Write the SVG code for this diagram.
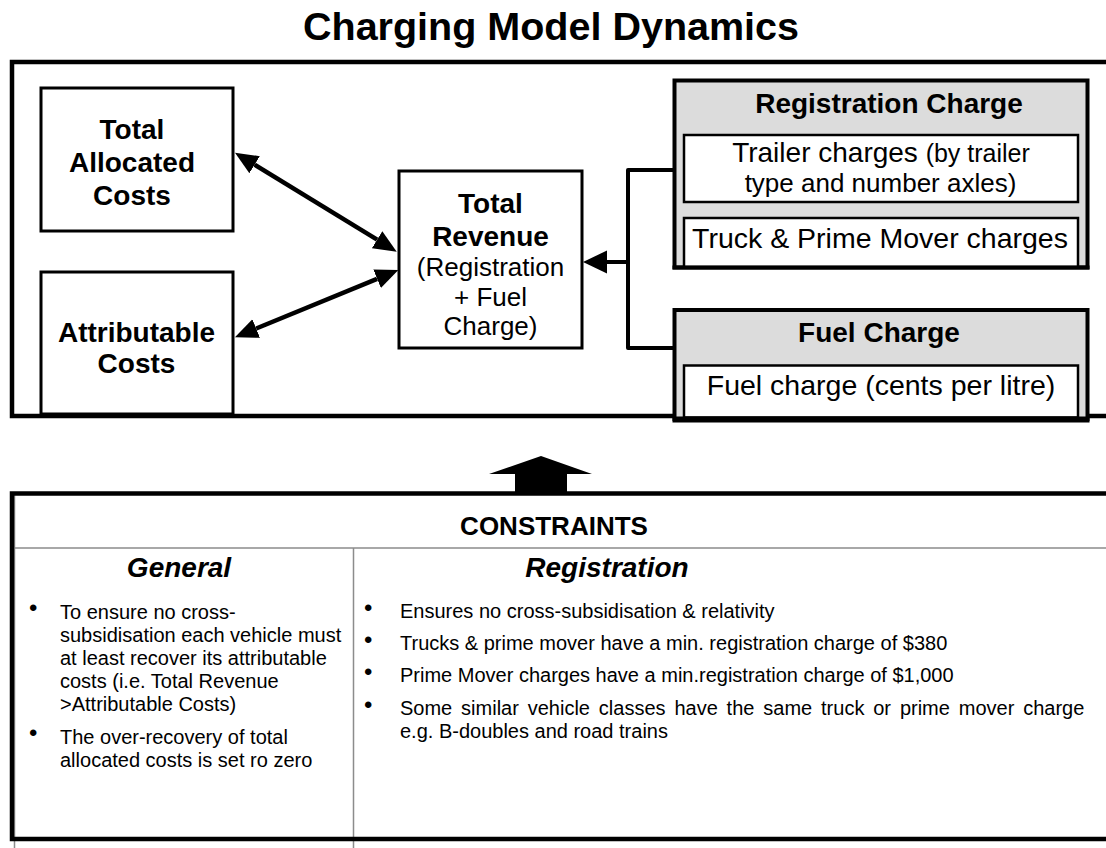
<svg xmlns="http://www.w3.org/2000/svg" width="1106" height="848" viewBox="0 0 1106 848">
  <style>
    text { font-family: "Liberation Sans", Arial, sans-serif; fill: #000; }
    .title { font-size: 39.5px; font-weight: bold; text-anchor: middle; }
    .hd { font-size: 28px; font-weight: bold; text-anchor: middle; }
    .nm { font-size: 26px; text-anchor: middle; }
    .lg { font-size: 28.5px; text-anchor: middle; }
    .sub { font-size: 26px; font-weight: bold; text-anchor: middle; }
    .col { font-size: 28px; font-weight: bold; font-style: italic; text-anchor: middle; }
    .body { font-size: 20px; }
    .bul { font-size: 24px; }
    .box { fill: #fff; stroke: #000; stroke-width: 3; }
    .grey { fill: #dcdcdc; stroke: #000; stroke-width: 4; }
    .inner { fill: #fff; stroke: #000; stroke-width: 2.5; }
    .rule { fill: none; stroke: #000; stroke-width: 4.5; }
    .thin { fill: none; stroke: #8c8c8c; stroke-width: 1.5; }
    .conn { fill: none; stroke: #000; stroke-width: 4.5; }
    .bracket { fill: none; stroke: #000; stroke-width: 4; stroke-linejoin: round; }
  </style>
  <defs>
    <marker id="head" markerUnits="userSpaceOnUse" viewBox="0 -11 25 22" markerWidth="25" markerHeight="22" refX="0" refY="0" orient="auto-start-reverse">
      <path d="M0,-10 L23,0 L0,10 Z" fill="#000"/>
    </marker>
    <marker id="headL" markerUnits="userSpaceOnUse" viewBox="0 -12 26 24" markerWidth="26" markerHeight="24" refX="0" refY="0" orient="auto">
      <path d="M0,-11.5 L24,0 L0,11.5 Z" fill="#000"/>
    </marker>
  </defs>

  <text class="title" x="551" y="40">Charging Model Dynamics</text>

  <!-- upper frame: open on the right -->
  <g id="upper-frame">
    <path class="rule" d="M1106,62 L12,62 L12,416 L1106,416"/>
  </g>

  <g id="total-allocated-costs">
    <rect class="box" x="41" y="88" width="192" height="143"/>
    <text class="hd" x="132" y="139">Total</text>
    <text class="hd" x="132" y="172">Allocated</text>
    <text class="hd" x="132" y="205">Costs</text>
  </g>

  <g id="attributable-costs">
    <rect class="box" x="41" y="272" width="192" height="142"/>
    <text class="hd" x="136.5" y="342">Attributable</text>
    <text class="hd" x="136.5" y="373">Costs</text>
  </g>

  <g id="total-revenue">
    <rect class="box" x="399" y="171" width="183" height="177"/>
    <text class="hd" x="490.5" y="213">Total</text>
    <text class="hd" x="490.5" y="246">Revenue</text>
    <text class="nm" x="490.5" y="276">(Registration</text>
    <text class="nm" x="490.5" y="306">+ Fuel</text>
    <text class="nm" x="490.5" y="335">Charge)</text>
  </g>

  <g id="registration-charge">
    <rect class="grey" x="674.5" y="80.5" width="413" height="187"/>
    <text class="hd" x="889" y="113">Registration Charge</text>
    <rect class="inner" x="684" y="135" width="394" height="67"/>
    <text class="lg" x="881" y="162"><tspan font-size="28px">Trailer charges </tspan><tspan font-size="25px">(by trailer</tspan></text>
    <text class="nm" x="880.5" y="192">type and number axles)</text>
    <rect class="inner" x="684" y="218" width="394" height="49"/>
    <text class="lg" x="880" y="248">Truck &amp; Prime Mover charges</text>
    <path d="M672.5,267.5 L1089.5,267.5" stroke="#000" stroke-width="4"/>
  </g>

  <g id="fuel-charge">
    <rect class="grey" x="674.5" y="310" width="413" height="109"/>
    <text class="hd" x="879" y="342">Fuel Charge</text>
    <rect class="inner" x="684" y="365.5" width="394" height="52"/>
    <text class="lg" x="881" y="395">Fuel charge (cents per litre)</text>
    <path d="M672.5,419.5 L1089.5,419.5" stroke="#000" stroke-width="6"/>
  </g>

  <g id="connectors">
    <path class="conn" d="M254.6,164.7 L377.1,239.7" marker-start="url(#head)" marker-end="url(#head)"/>
    <path class="conn" d="M256.2,328.5 L377.1,278.8" marker-start="url(#head)" marker-end="url(#head)"/>
    <path class="bracket" d="M674,170 L628,170 L628,348 L674,348"/>
    <path class="bracket" d="M628,262 L607,262" marker-end="url(#headL)"/>
    <polygon points="541,456 592,474 567,474 567,493 515,493 515,474 489,474" fill="#000"/>
  </g>

  <g id="constraints">
    <path class="thin" d="M14.5,548 L1106,548 M353.5,548 L353.5,848 M14.5,493 L14.5,848"/>
    <path class="rule" d="M1106,493.5 L12,493.5 L12,839 L1106,839" stroke-width="5"/>
    <text class="sub" x="554" y="535">CONSTRAINTS</text>

    <text class="col" x="179" y="577">General</text>
    <text class="bul" x="29" y="616">•</text>
    <text class="body" x="60" y="619">To ensure no cross-</text>
    <text class="body" x="60" y="642">subsidisation each vehicle must</text>
    <text class="body" x="60" y="665">at least recover its attributable</text>
    <text class="body" x="60" y="688">costs (i.e. Total Revenue</text>
    <text class="body" x="60" y="711">&gt;Attributable Costs)</text>
    <text class="bul" x="29" y="741">•</text>
    <text class="body" x="60" y="744">The over-recovery of total</text>
    <text class="body" x="60" y="767">allocated costs is set ro zero</text>

    <text class="col" x="607" y="577">Registration</text>
    <text class="bul" x="364" y="616">•</text>
    <text class="body" x="400" y="618">Ensures no cross-subsidisation &amp; relativity</text>
    <text class="bul" x="364" y="648">•</text>
    <text class="body" x="400" y="650">Trucks &amp; prime mover have a min. registration charge of $380</text>
    <text class="bul" x="364" y="680">•</text>
    <text class="body" x="400" y="682">Prime Mover charges have a min.registration charge of $1,000</text>
    <text class="bul" x="364" y="713">•</text>
    <text class="body" x="400" y="715" word-spacing="3.3">Some similar vehicle classes have the same truck or prime mover charge</text>
    <text class="body" x="400" y="738">e.g. B-doubles and road trains</text>
  </g>
</svg>
